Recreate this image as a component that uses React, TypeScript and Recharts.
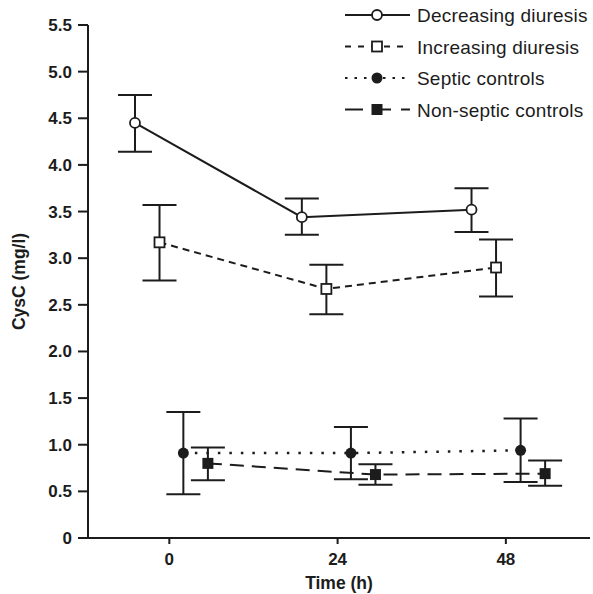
import React from 'react';
import { ScatterChart, Scatter, XAxis, YAxis, ErrorBar } from 'recharts';

// time points are offset per group so the error bars don't overlap
const decTime = [-4.9, 18.9, 43.1];
const decMean = [4.45, 3.44, 3.52];
const decLow = [4.14, 3.25, 3.28];
const decHigh = [4.75, 3.64, 3.75];

const incTime = [-1.4, 22.4, 46.6];
const incMean = [3.17, 2.67, 2.9];
const incLow = [2.76, 2.4, 2.59];
const incHigh = [3.57, 2.93, 3.2];

const sepTime = [2.0, 25.9, 50.1];
const sepMean = [0.91, 0.91, 0.94];
const sepLow = [0.47, 0.63, 0.6];
const sepHigh = [1.35, 1.19, 1.28];

const nonTime = [5.5, 29.4, 53.6];
const nonMean = [0.8, 0.68, 0.69];
const nonLow = [0.62, 0.57, 0.56];
const nonHigh = [0.97, 0.79, 0.83];

const xTicks = [0, 24, 48];
const yTicks = [0, 0.5, 1, 1.5, 2, 2.5, 3, 3.5, 4, 4.5, 5, 5.5];

const seriesNames = ['Decreasing diuresis', 'Increasing diuresis', 'Septic controls', 'Non-septic controls'];

const INK = '#1c1c1c';
const FONT = '"Liberation Sans", Arial, Helvetica, sans-serif';

const rows = (t: number[], m: number[], lo: number[], hi: number[]) =>
  t.map((x, i) => ({ t: x, v: m[i], err: [m[i] - lo[i], hi[i] - m[i]] }));

const OpenCircle = (p: any) => <circle cx={p.cx} cy={p.cy} r={5} fill="#fff" stroke={INK} strokeWidth={1.8} />;
const OpenSquare = (p: any) => <rect x={p.cx - 5} y={p.cy - 5} width={10} height={10} fill="#fff" stroke={INK} strokeWidth={1.8} />;
const FilledCircle = (p: any) => <circle cx={p.cx} cy={p.cy} r={5.5} fill={INK} />;
const FilledSquare = (p: any) => <rect x={p.cx - 5.5} y={p.cy - 5.5} width={11} height={11} fill={INK} />;

const legendSamples = [
  { dash: undefined, marker: 'oc' },
  { dash: '6 7', marker: 'os' },
  { dash: '2.5 7', marker: 'fc' },
  { dash: '18 10', marker: 'fs' },
];

// key is drawn on top of the chart so it doesn't push the plot area down
function KeyBox() {
  return (
    <svg width={253} height={125} style={{ position: 'absolute', top: 0, left: 340 }}>
      {seriesNames.map((name, i) => {
        const y = 15 + i * 31.5;
        const s = legendSamples[i];
        return (
          <g key={name}>
            <line x1={5} x2={70} y1={y} y2={y} stroke={INK} strokeWidth={2} strokeDasharray={s.dash} />
            {s.marker === 'oc' && <OpenCircle cx={37} cy={y} />}
            {s.marker === 'os' && <OpenSquare cx={37} cy={y} />}
            {s.marker === 'fc' && <FilledCircle cx={37} cy={y} />}
            {s.marker === 'fs' && <FilledSquare cx={37} cy={y} />}
            <text x={77} y={y + 7} fontSize={19} style={{ letterSpacing: '0.2px' }} fill={INK} fontFamily={FONT}>
              {name}
            </text>
          </g>
        );
      })}
    </svg>
  );
}

export default function App() {
  const bar = { direction: 'y' as const, width: 17, stroke: INK, strokeWidth: 2 };
  return (
    <div style={{ position: 'absolute', left: 0, top: 0, width: 593, height: 594, background: '#fff', fontFamily: FONT }}>
      <ScatterChart width={593} height={594} margin={{ top: 25, right: 3, bottom: 0, left: 0 }}>
        <XAxis
          type="number"
          dataKey="t"
          domain={[-11.6, 60]}
          allowDataOverflow
          ticks={xTicks}
          stroke={INK}
          strokeWidth={2}
          tickSize={6}
          tickMargin={9}
          height={56}
          tick={{ fontSize: 17, fontWeight: 'bold', fill: INK }}
          label={{ value: 'Time (h)', position: 'insideBottom', offset: 5, fontSize: 17.5, fontWeight: 'bold', fill: INK }}
        />
        <YAxis
          type="number"
          dataKey="v"
          domain={[0, 5.5]}
          ticks={yTicks}
          width={88}
          stroke={INK}
          strokeWidth={2}
          tickSize={10}
          tickMargin={6}
          tickFormatter={(v: number) => (v === 0 ? '0' : v.toFixed(1))}
          tick={{ fontSize: 17, fontWeight: 'bold', fill: INK }}
          label={{ value: 'CysC (mg/l)', angle: -90, position: 'insideLeft', offset: 19, fontSize: 17.5, fontWeight: 'bold', fill: INK, style: { textAnchor: 'middle' } }}
        />
        <Scatter
          name={seriesNames[0]}
          data={rows(decTime, decMean, decLow, decHigh)}
          line={{ stroke: INK, strokeWidth: 2 }}
          shape={OpenCircle}
          isAnimationActive={false}
        >
          <ErrorBar dataKey="err" {...bar} />
        </Scatter>
        <Scatter
          name={seriesNames[1]}
          data={rows(incTime, incMean, incLow, incHigh)}
          line={{ stroke: INK, strokeWidth: 2, strokeDasharray: '7 5' }}
          shape={OpenSquare}
          isAnimationActive={false}
        >
          <ErrorBar dataKey="err" {...bar} />
        </Scatter>
        <Scatter
          name={seriesNames[2]}
          data={rows(sepTime, sepMean, sepLow, sepHigh)}
          line={{ stroke: INK, strokeWidth: 2.5, strokeDasharray: '2.5 9' }}
          shape={FilledCircle}
          isAnimationActive={false}
        >
          <ErrorBar dataKey="err" {...bar} />
        </Scatter>
        <Scatter
          name={seriesNames[3]}
          data={rows(nonTime, nonMean, nonLow, nonHigh)}
          line={{ stroke: INK, strokeWidth: 2, strokeDasharray: '14 8' }}
          shape={FilledSquare}
          isAnimationActive={false}
        >
          <ErrorBar dataKey="err" {...bar} />
        </Scatter>
      </ScatterChart>
      <KeyBox />
    </div>
  );
}
